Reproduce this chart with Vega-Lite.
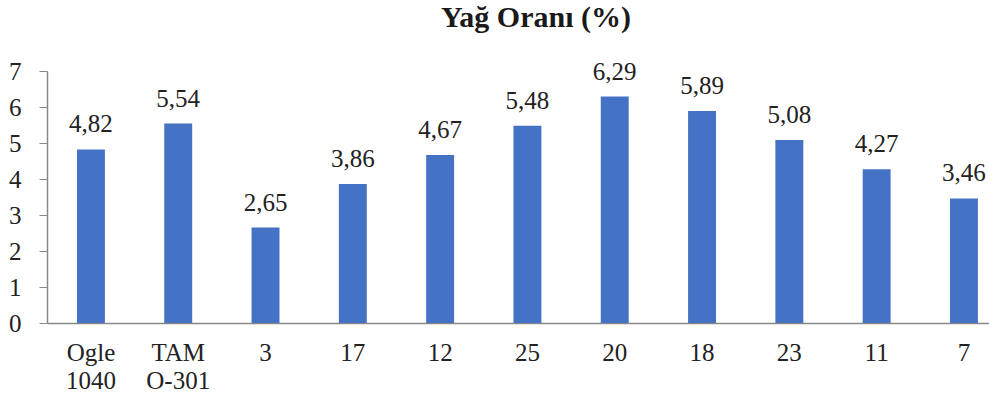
{
  "$schema": "https://vega.github.io/schema/vega-lite/v6.json",
  "width": 942,
  "height": 252,
  "autosize": "none",
  "padding": {"left": 47, "top": 71, "right": 0, "bottom": 80},
  "background": "white",
  "config": {
    "locale": {"number": {"decimal": ",", "thousands": ".", "grouping": [3], "currency": ["", " ₺"]}},
    "view": {"stroke": null}
  },
  "title": {
    "text": "Yağ Oranı (%)",
    "font": "Liberation Serif",
    "fontSize": 30,
    "fontWeight": "bold",
    "color": "#1a1a1a",
    "anchor": "middle",
    "offset": 26,
    "dx": 18
  },
  "data": {
    "values": [
      {"cultivar": "Ogle 1040", "oil": 4.82},
      {"cultivar": "TAM O-301", "oil": 5.54},
      {"cultivar": "3", "oil": 2.65},
      {"cultivar": "17", "oil": 3.86},
      {"cultivar": "12", "oil": 4.67},
      {"cultivar": "25", "oil": 5.48},
      {"cultivar": "20", "oil": 6.29},
      {"cultivar": "18", "oil": 5.89},
      {"cultivar": "23", "oil": 5.08},
      {"cultivar": "11", "oil": 4.27},
      {"cultivar": "7", "oil": 3.46}
    ]
  },
  "encoding": {
    "x": {
      "field": "cultivar",
      "type": "nominal",
      "sort": null,
      "title": null,
      "scale": {"paddingInner": 0.68, "paddingOuter": 0.235, "align": 0.73},
      "axis": {
        "labelAngle": 0,
        "ticks": false,
        "domainColor": "#888888",
        "domainWidth": 1.5,
        "labelFont": "Liberation Serif",
        "labelFontSize": 25,
        "labelColor": "#222222",
        "labelLineHeight": 28,
        "labelPadding": 17,
        "labelExpr": "split(datum.label, ' ')"
      }
    },
    "y": {
      "field": "oil",
      "type": "quantitative",
      "title": null,
      "scale": {"domain": [0, 7], "nice": false},
      "axis": {
        "values": [0, 1, 2, 3, 4, 5, 6, 7],
        "grid": false,
        "domainColor": "#888888",
        "domainWidth": 1.5,
        "tickColor": "#888888",
        "tickSize": 8,
        "labelFont": "Liberation Serif",
        "labelFontSize": 25,
        "labelColor": "#222222",
        "labelPadding": 18
      }
    }
  },
  "layer": [
    {"mark": {"type": "bar", "color": "#4472C4"}},
    {
      "mark": {
        "type": "text",
        "font": "Liberation Serif",
        "fontSize": 25,
        "color": "#222222",
        "align": "center",
        "baseline": "alphabetic",
        "dy": -17
      },
      "encoding": {"text": {"field": "oil", "type": "quantitative", "format": ".2f"}}
    }
  ]
}
